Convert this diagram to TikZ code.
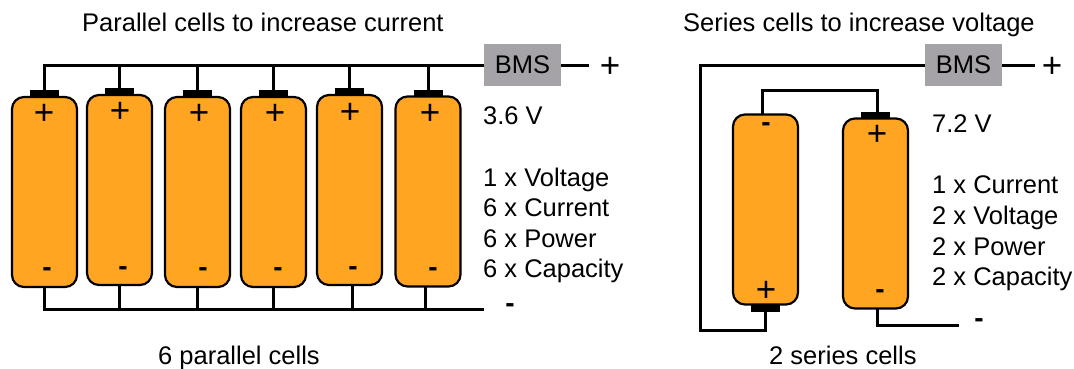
\documentclass[tikz,border=0pt]{standalone}
\usepackage{fontspec}
\setmainfont{Liberation Sans}
\definecolor{cellorange}{HTML}{FFA522}
\definecolor{bmsgray}{HTML}{A5A3A8}
\tikzset{
    cell/.style={draw, line width=2.2pt, fill=cellorange, rounded corners=12pt, minimum width=65pt, minimum height=190pt, outer sep=0pt},
    cellcap/.style={fill=black, minimum width=29pt, minimum height=7pt, inner sep=0pt, outer sep=0pt},
    bms/.style={fill=bmsgray, minimum width=77pt, minimum height=42pt, inner sep=0pt, outer sep=0pt, font=\fontsize{25.5}{25.5}\selectfont},
    wire/.style={line width=3pt, line join=miter},
    txt/.style={anchor=base west, inner sep=0pt, font=\fontsize{25.5}{25.5}\selectfont},
    plus/.style={inner sep=0pt, font=\fontsize{35}{35}\selectfont},
    minus/.style={inner sep=0pt, font=\bfseries\fontsize{28}{28}\selectfont}
}
\begin{document}
\begin{tikzpicture}[x=1pt, y=-1pt]
    \useasboundingbox (0,0) rectangle (1074,368);

    \node [txt] (title1) at (82,31) {Parallel cells to increase current};
    \node [txt] (title2) at (683,31) {Series cells to increase voltage};
    \node [txt] (count1) at (158,364) {6 parallel cells};
    \node [txt] (count2) at (769,364) {2 series cells};

    \node [bms] (bms1) at (522.5,65) {BMS};
    \node [bms] (bms2) at (963.5,65) {BMS};
    \coordinate (pos1) at (589,65);
    \coordinate (pos2) at (1035,65);
    \node [plus] (plus1) at (610,67) {+};
    \node [plus] (plus2) at (1052,67) {+};
    \coordinate (neg1) at (484,309);
    \coordinate (neg2) at (959,325);
    \node [minus] (minus1) at (510,308) {-};
    \node [minus] (minus2) at (979,323) {-};

    \node [cell] (a) at (44.5,192) {};
    \node [cell] (b) at (119.5,190) {};
    \node [cell] (c) at (197.5,192) {};
    \node [cell] (d) at (273.5,192) {};
    \node [cell] (e) at (349.5,190) {};
    \node [cell] (f) at (428,191.5) {};
    \node [cell] (g) at (765.5,209.5) {};
    \node [cell] (h) at (875.5,213.5) {};

    \node [cellcap, anchor=south] (acap) at (a.north) {};
    \node [cellcap, anchor=south] (bcap) at (b.north) {};
    \node [cellcap, anchor=south] (ccap) at (c.north) {};
    \node [cellcap, anchor=south] (dcap) at (d.north) {};
    \node [cellcap, anchor=south] (ecap) at (e.north) {};
    \node [cellcap, anchor=south] (fcap) at (f.north) {};
    \node [cellcap, anchor=north] (gcap) at (g.south) {};
    \node [cellcap, anchor=south] (hcap) at (h.north) {};

    \node [plus] at (44,114) {+};
    \node [plus] at (120,112) {+};
    \node [plus] at (199,114) {+};
    \node [plus] at (275,114) {+};
    \node [plus] at (350,113) {+};
    \node [plus] at (430,114) {+};
    \node [minus] at (47,272) {-};
    \node [minus] at (123,271) {-};
    \node [minus] at (203,272) {-};
    \node [minus] at (278,272) {-};
    \node [minus] at (353,271) {-};
    \node [minus] at (433,272) {-};
    \node [minus] at (766,127) {-};
    \node [plus] at (877,135) {+};
    \node [plus] at (766,291) {+};
    \node [minus] at (880,294) {-};

    \path[wire]
        (acap.north) edge[to path={|- (\tikztotarget)}] (bms1.west)
        (bms1.east) edge (pos1)
        (bcap.north) edge (b.north |- bms1.west)
        (ccap.north) edge (c.north |- bms1.west)
        (dcap.north) edge (d.north |- bms1.west)
        (ecap.north) edge (e.north |- bms1.west)
        (fcap.north) edge (f.north |- bms1.west)
        (bms2.east) edge (pos2);
    \draw[wire] (a.south) |- (neg1);
    \draw[wire] (b.south) -- (b.south |- neg1);
    \draw[wire] (c.south) -- (c.south |- neg1);
    \draw[wire] (d.south) -- (d.south |- neg1);
    \draw[wire] ([xshift=2.5pt]e.south) -- ([xshift=2.5pt]e.south |- neg1);
    \draw[wire] ([xshift=-3pt]f.south) -- ([xshift=-3pt]f.south |- neg1);

    \draw[wire] (bms2.west) -| (700,330) -| (gcap.south);
    \draw[wire] ([xshift=2pt]hcap.north) |- (762,90) -- (762,114.5);
    \draw[wire] ([xshift=2pt]h.south) |- (neg2);

    \node [txt] (volt1) at (483,124) {3.6 V};
    \node [txt] at (483,186) {1 x Voltage};
    \node [txt] at (483,216) {6 x Current};
    \node [txt] at (483,247) {6 x Power};
    \node [txt] at (483,277) {6 x Capacity};
    \node [txt] (volt2) at (932,132) {7.2 V};
    \node [txt] at (932,193) {1 x Current};
    \node [txt] at (932,224) {2 x Voltage};
    \node [txt] at (932,255) {2 x Power};
    \node [txt] at (932,285) {2 x Capacity};
\end{tikzpicture}
\end{document}
